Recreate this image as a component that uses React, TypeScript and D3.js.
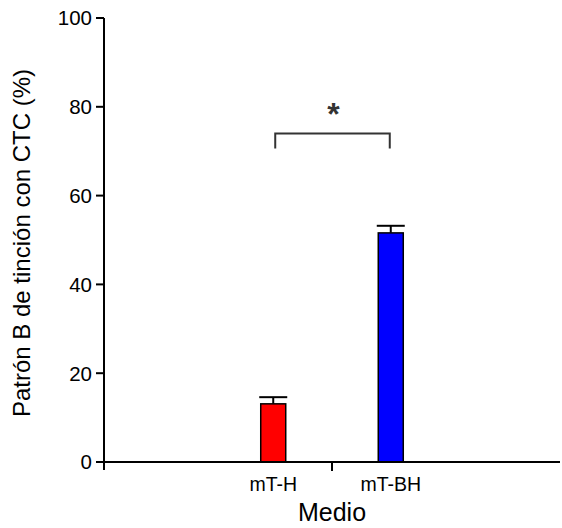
import React from "react";
import * as d3 from "d3";

const categories = ["mT-H", "mT-BH"];
const means = [13.1, 51.6];
const errors = [1.5, 1.6];
const barColors = ["#ff0000", "#0000ff"];
const yTicks = [0, 20, 40, 60, 80, 100];

const width = 562;
const height = 528;
const left = 104;
const right = 560;
const top = 18;
const bottom = 462;

const App = () => {
    const y = d3.scaleLinear().domain([0, 100]).range([bottom, top]);
    const x = d3.scalePoint().domain(categories).range([left, right]).padding(1.44);
    const barW = 25;
    const capW = 28;
    const mid = (left + right) / 2;

    const x1 = x(categories[0]) + 2;
    const x2 = x(categories[1]) - 1;
    const bracketY = y(74);
    const legY = y(70.6);

    return (
        <svg width={width} height={height} style={{ position: "absolute", left: 0, top: 0 }}
            fontFamily="'Liberation Sans', Arial, sans-serif">
            {categories.map((c, i) => {
                const cx = x(c);
                return (
                    <g key={c}>
                        <line x1={cx} x2={cx} y1={y(means[i])} y2={y(means[i] + errors[i])} stroke="black" strokeWidth={2} />
                        <line x1={cx - capW / 2} x2={cx + capW / 2} y1={y(means[i] + errors[i])} y2={y(means[i] + errors[i])} stroke="black" strokeWidth={2} />
                        <rect x={cx - barW / 2} y={y(means[i])} width={barW} height={bottom - y(means[i])}
                            fill={barColors[i]} stroke="black" strokeWidth={1.5} />
                        <text x={cx} y={491} textAnchor="middle" fontSize={19.5}>{c}</text>
                    </g>
                );
            })}
            {/* y axis */}
            <line x1={left} x2={left} y1={top} y2={470} stroke="black" strokeWidth={2} />
            {yTicks.map(t => (
                <g key={t}>
                    <line x1={left - 8} x2={left} y1={y(t)} y2={y(t)} stroke="black" strokeWidth={2} />
                    <text x={left - 12} y={y(t)} dy="0.36em" textAnchor="end" fontSize={20.5}>{t}</text>
                </g>
            ))}
            {/* x axis */}
            <line x1={left} x2={right} y1={bottom} y2={bottom} stroke="black" strokeWidth={2} />
            <line x1={mid} x2={mid} y1={bottom} y2={bottom + 9} stroke="black" strokeWidth={2} />
            {/* significance bracket */}
            <path d={`M${x1},${legY} V${bracketY} H${x2} V${legY}`} fill="none" stroke="#333" strokeWidth={2} />
            <text x={(x1 + x2) / 2 + 1} y={125} textAnchor="middle" fontSize={32} fontWeight="bold" fill="#333">*</text>
            <text x={mid} y={521} textAnchor="middle" fontSize={25}>Medio</text>
            <text transform={`translate(30,${243}) rotate(-90)`} textAnchor="middle" fontSize={24}>
                Patrón B de tinción con CTC (%)
            </text>
        </svg>
    );
};

export default App;
